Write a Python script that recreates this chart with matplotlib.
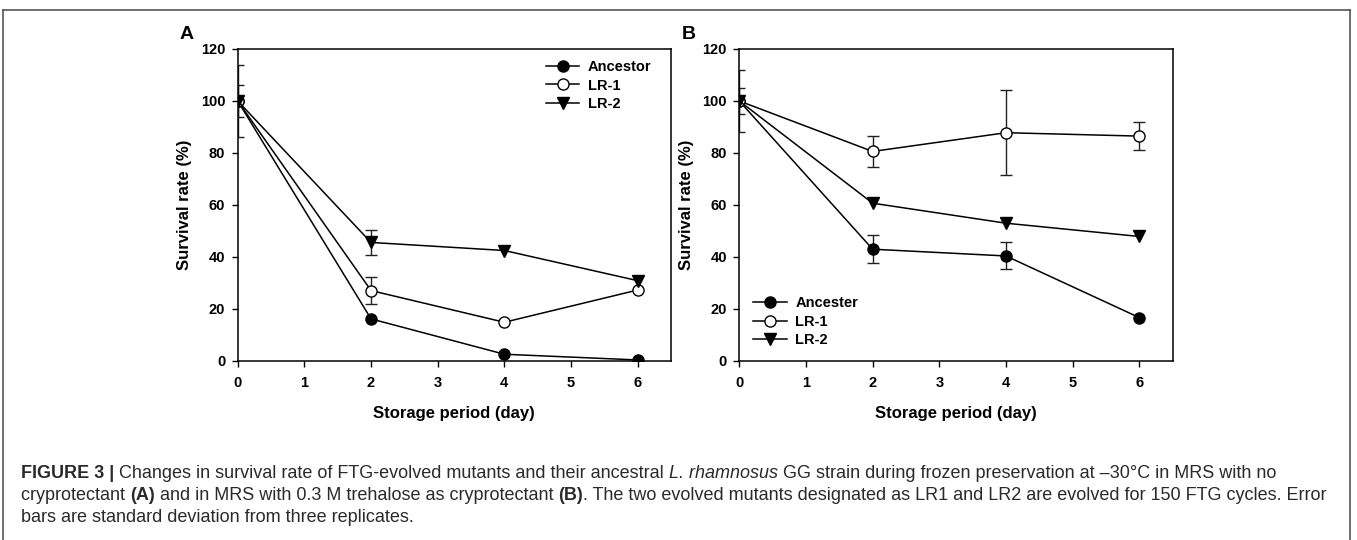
import numpy as np
import matplotlib
matplotlib.use("Agg")
import matplotlib.pyplot as plt
from matplotlib.lines import Line2D

plt.rcParams['font.family'] = ['Liberation Sans', 'DejaVu Sans']

days = [0, 2, 4, 6]
series_names_a = ['Ancestor', 'LR-1', 'LR-2']
series_names_b = ['Ancester', 'LR-1', 'LR-2']

# panel A: no cryoprotectant
anc_a = [100, 16.2, 2.6, 0.4]
lr1_a = [100, 27.1, 14.9, 27.3]
lr2_a = [100, 45.6, 42.5, 30.9]
anc_a_err = [14, 0, 0, 0]
lr1_a_err = [6, 5.3, 0, 0]
lr2_a_err = [0, 4.7, 0, 0]

# panel B: 0.3 M trehalose
anc_b = [100, 43.0, 40.4, 16.7]
lr1_b = [100, 80.6, 87.8, 86.5]
lr2_b = [100, 60.7, 53.0, 47.9]
anc_b_err = [12, 5.4, 5.2, 0]
lr1_b_err = [5, 6.0, 16.4, 5.3]
lr2_b_err = [0, 0, 0, 0]

W, H = 1357, 540
fig = plt.figure(figsize=(W / 100, H / 100), dpi=100)

styles = [dict(marker='o', mfc='black', mec='black'),
          dict(marker='o', mfc='white', mec='black'),
          dict(marker='v', mfc='black', mec='black')]


def panel(left_px, vals, errs, names, leg_anchor, letter):
    ax = fig.add_axes([left_px / W, (H - 361) / H, 433.3 / W, 312 / H])
    for v, e, st, nm in zip(vals, errs, styles, names):
        idx = [i for i, x in enumerate(e) if x > 0]
        if idx:
            ax.errorbar([days[i] for i in idx], [v[i] for i in idx],
                        yerr=[e[i] for i in idx], fmt='none', ecolor='#222222',
                        elinewidth=1, capsize=4, capthick=1, zorder=1)
        ax.plot(days, v, color='black', lw=1.1, ms=8, mew=1, label=nm,
                zorder=3, **st)
    ax.set_xlim(0, 6.5)
    ax.set_ylim(0, 120)
    ax.set_xticks(range(0, 7))
    ax.set_yticks(range(0, 121, 20))
    ax.tick_params(direction='out', length=4, width=1, labelsize=10.5, pad=5)
    ax.tick_params(axis='x', pad=7)
    for lab in ax.get_xticklabels() + ax.get_yticklabels():
        lab.set_fontweight('bold')
    for s in ax.spines.values():
        s.set_linewidth(1.1)
    ax.set_xlabel('Storage period (day)', fontsize=12, fontweight='bold', va='center')
    ax.xaxis.set_label_coords(0.5, -0.167)
    ax.set_ylabel('Survival rate (%)', fontsize=12, fontweight='bold', va='center')
    ax.yaxis.set_label_coords(-0.122, 0.5)
    ax.legend(loc='upper left', bbox_to_anchor=leg_anchor, frameon=False,
              borderpad=0, borderaxespad=0, handlelength=2.3, handletextpad=0.6,
              labelspacing=0.32, numpoints=1, prop=dict(size=10.5, weight='bold'))
    ax.text(-0.117, 1.045, letter, transform=ax.transAxes, fontsize=14,
            fontweight='bold', ha='center', va='center')
    return ax


panel(237.7, [anc_a, lr1_a, lr2_a], [anc_a_err, lr1_a_err, lr2_a_err],
      series_names_a, (0.711, 0.965), 'A')
panel(739.3, [anc_b, lr1_b, lr2_b], [anc_b_err, lr1_b_err, lr2_b_err],
      series_names_b, (0.032, 0.208), 'B')

# page frame
frame_kw = dict(color='#555555', lw=1.2, transform=fig.transFigure)
fig.add_artist(Line2D([3 / W, 1350 / W], [1 - 10 / H, 1 - 10 / H], **frame_kw))
fig.add_artist(Line2D([3 / W, 3 / W], [0, 1 - 10 / H], **frame_kw))
fig.add_artist(Line2D([1350 / W, 1350 / W], [0, 1 - 10 / H], **frame_kw))

# caption with mixed styles
B = dict(fontweight='bold')
I = dict(fontstyle='italic')
N = dict()
caption = [
    [('FIGURE 3 | ', B), ('Changes in survival rate of FTG-evolved mutants and their ancestral ', N),
     ('L. rhamnosus', I), (' GG strain during frozen preservation at \u201330\u00b0C in MRS with no', N)],
    [('cryprotectant ', N), ('(A)', B), (' and in MRS with 0.3 M trehalose as cryprotectant ', N),
     ('(B)', B), ('. The two evolved mutants designated as LR1 and LR2 are evolved for 150 FTG cycles. Error', N)],
    [('bars are standard deviation from three replicates.', N)],
]
cap_y = [473, 495, 517]
renderer = fig.canvas.get_renderer()


def draw_runs(runs, x_px, y_px, size):
    out = []
    cx = x_px
    for s, kw in runs:
        t = fig.text(cx / W, 1 - y_px / H, s, fontsize=size, color='#2a2a2a',
                     va='center', ha='left', **kw)
        cx += t.get_window_extent(renderer).width
        out.append(t)
    return out, cx


tmp, end = draw_runs(caption[1], 21, cap_y[1], 10)
for t in tmp:
    t.remove()
cap_size = 10 * (1329 - 21) / (end - 21)
for runs, y in zip(caption, cap_y):
    draw_runs(runs, 21, y, cap_size)

fig.savefig('out.png', dpi=100)
